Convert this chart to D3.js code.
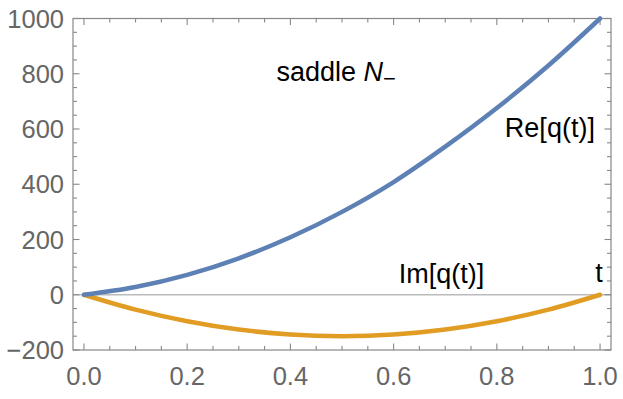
<!DOCTYPE html>
<html>
<head>
<meta charset="utf-8">
<script src="https://cdn.jsdelivr.net/npm/d3@7"></script>
<style>
  body { margin: 0; background: #fff; }
  text { font-family: "Liberation Sans", Arial, sans-serif; }
</style>
</head>
<body>
<script>
// values
var tValues = [0, 0.1, 0.2, 0.3, 0.4, 0.5, 0.6, 0.7, 0.8, 0.9, 1.0];
var reValues = [0, 28, 72, 132, 208, 300, 408, 536, 676, 830, 1000];
var imValues = [0, -54, -96, -126, -144, -150, -144, -126, -96, -54, 0];
var xTicks = [0, 0.2, 0.4, 0.6, 0.8, 1.0];
var yTicks = [-200, 0, 200, 400, 600, 800, 1000];

var W = 623, H = 399;
var svg = d3.select("body").append("svg")
  .attr("width", W)
  .attr("height", H);

var x = d3.scaleLinear().domain([-0.0212, 1.0212]).range([73, 611]);
var y = d3.scaleLinear().domain([-200, 1000]).range([350, 18.5]);

var x0 = x.range()[0], x1 = x.range()[1];
var yb = y.range()[0], yt = y.range()[1];

// zero line
svg.append("line")
  .attr("x1", x0).attr("x2", x1)
  .attr("y1", y(0)).attr("y2", y(0))
  .attr("stroke", "#bbbbbb").attr("stroke-width", 1.3);

// frame
var frame = "#888888";
svg.append("rect")
  .attr("x", x0).attr("y", yt)
  .attr("width", x1 - x0).attr("height", yb - yt)
  .attr("fill", "none").attr("stroke", frame).attr("stroke-width", 1.2);

// ticks on all four sides, pointing inward
var xMinor = d3.range(0, 1.0001, 0.05);
var yMinor = d3.range(-200, 1000.1, 50);
var isMajorX = function(v){ return xTicks.some(function(t){ return Math.abs(t - v) < 1e-6; }); };
var isMajorY = function(v){ return yTicks.some(function(t){ return Math.abs(t - v) < 1e-6; }); };

var ticks = svg.append("g").attr("stroke", frame).attr("stroke-width", 1.1);
xMinor.forEach(function(v){
  var len = isMajorX(v) ? 6.5 : 4;
  ticks.append("line").attr("x1", x(v)).attr("x2", x(v)).attr("y1", yb).attr("y2", yb - len);
  ticks.append("line").attr("x1", x(v)).attr("x2", x(v)).attr("y1", yt).attr("y2", yt + len);
});
yMinor.forEach(function(v){
  var len = isMajorY(v) ? 6.5 : 4;
  ticks.append("line").attr("y1", y(v)).attr("y2", y(v)).attr("x1", x0).attr("x2", x0 + len);
  ticks.append("line").attr("y1", y(v)).attr("y2", y(v)).attr("x1", x1).attr("x2", x1 - len);
});

// tick labels
var labelColor = "#666666";
svg.append("g").selectAll("text")
  .data(xTicks)
  .enter()
  .append("text")
  .attr("x", function(d){ return x(d); })
  .attr("y", 385)
  .attr("text-anchor", "middle")
  .attr("font-size", 25.5)
  .attr("fill", labelColor)
  .text(function(d){ return d3.format(".1f")(d); });

svg.append("g").selectAll("text")
  .data(yTicks)
  .enter()
  .append("text")
  .attr("x", 64)
  .attr("y", function(d){ return y(d) + 9; })
  .attr("text-anchor", "end")
  .attr("font-size", 25.5)
  .attr("fill", labelColor)
  .text(function(d){ return d < 0 ? "\u2212" + Math.abs(d) : d; });

// curves
var reData = tValues.map(function(t, i){ return [t, reValues[i]]; });
var imData = tValues.map(function(t, i){ return [t, imValues[i]]; });
var line = d3.line()
  .x(function(d){ return x(d[0]); })
  .y(function(d){ return y(d[1]); })
  .curve(d3.curveMonotoneX);

svg.append("path").datum(imData)
  .attr("d", line)
  .attr("fill", "none").attr("stroke", "#e19c24")
  .attr("stroke-width", 4.5).attr("stroke-linecap", "round");
svg.append("path").datum(reData)
  .attr("d", line)
  .attr("fill", "none").attr("stroke", "#5e81b5")
  .attr("stroke-width", 4.5).attr("stroke-linecap", "round");

// annotations
var ann = svg.append("g").attr("font-size", 27).attr("fill", "#000");
var sad = ann.append("text").attr("x", x(0.373)).attr("y", y(774));
sad.append("tspan").text("saddle ");
sad.append("tspan").attr("font-style", "italic").text("N");
sad.append("tspan").attr("dy", 5).attr("font-size", 22).text("\u2212");

ann.append("text").attr("x", x(0.99)).attr("y", y(570))
  .attr("text-anchor", "end").text("Re[q(t)]");
ann.append("text").attr("x", x(0.61)).attr("y", y(43)).text("Im[q(t)]");
ann.append("text").attr("x", x(0.998)).attr("y", y(46))
  .attr("text-anchor", "middle").text("t");
</script>
</body>
</html>
